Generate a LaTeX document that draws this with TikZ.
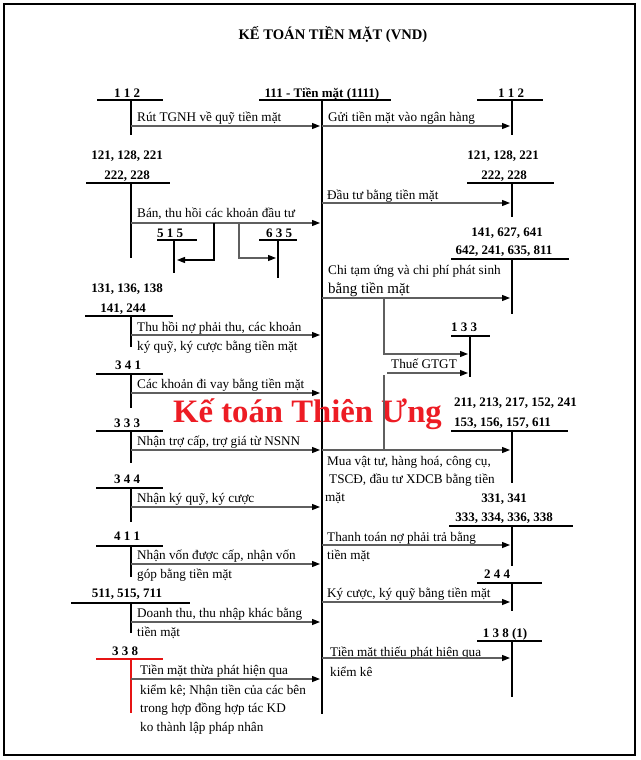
\documentclass[tikz,border=0pt]{standalone}
\usepackage{fontspec}
\setmainfont{Liberation Serif}
\usetikzlibrary{arrows.meta}
\definecolor{arrgray}{RGB}{95,95,95}
\definecolor{wmred}{RGB}{237,28,36}
\definecolor{linered}{RGB}{230,20,20}
\begin{document}
\begin{tikzpicture}[x=1pt,y=-1pt,
  acct/.style={font=\fontsize{13}{15}\selectfont\bfseries, anchor=base, inner sep=0pt},
  lbl/.style={font=\fontsize{13.2}{15}\selectfont, anchor=base west, inner sep=0pt},
  tl/.style={line width=2pt},
  tv/.style={line width=2.4pt},
  arr/.style={draw=arrgray, line width=1.3pt, -{Triangle[length=8pt,width=6pt,color=black]}, shorten >=2pt},
  plainln/.style={draw=arrgray, line width=1.3pt},
]
\useasboundingbox (0,0) rectangle (640,760);
\draw[line width=2.2pt] (4,4) rectangle (635,755);

% title
\node[acct, font=\fontsize{14.6}{16}\selectfont\bfseries] (title) at (333,40) {KẾ TOÁN TIỀN MẶT (VND)};

% main account 111
\node[acct] (m) at (322,97) {111 - Tiền mặt (1111)};
\coordinate (mT) at (322,100);
\coordinate (mB) at (322,714);
\coordinate (mhL) at (259,100);
\coordinate (mhR) at (391,100);
\draw[tl] (mhL) -- (mhR);
\draw[tv] (mT) -- (mB);

% watermark
\node[anchor=base west, inner sep=0pt, text=wmred, font=\fontsize{32.7}{36}\selectfont\bfseries] (wm) at (173,422) {Kế toán Thiên Ưng};

%%%%%%%% LEFT SIDE %%%%%%%%
% 112
\node[acct] (L1) at (127,97) {1 1 2};
\coordinate (L1hl) at (97,100); \coordinate (L1hr) at (163,100);
\coordinate (L1t) at (131,100); \coordinate (L1b) at (131,135);
\draw[tl] (L1hl) -- (L1hr); \draw[tv] (L1t) -- (L1b);
\node[lbl] (L1x) at (137,121) {Rút TGNH về quỹ tiền mặt};
\coordinate (L1a) at (131,126);
\draw[arr] (L1a) -- (L1a -| mT);

% 121,128,221 / 222,228
\node[acct] (L2) at (127,159) {121, 128, 221};
\node[acct] (L2b) at (127,179) {222, 228};
\coordinate (L2hl) at (86,183); \coordinate (L2hr) at (170,183);
\coordinate (L2t) at (131,183); \coordinate (L2b) at (131,258);
\draw[tl] (L2hl) -- (L2hr); \draw[tv] (L2t) -- (L2b);
\node[lbl] (L2x) at (137,217) {Bán, thu hồi các khoản đầu tư};
\coordinate (L2a) at (131,223);
\draw[arr] (L2a) -- (L2a -| mT);
% 515
\node[acct] (S1) at (170,237) {5 1 5};
\coordinate (S1hl) at (157,240); \coordinate (S1hr) at (197,240);
\coordinate (S1t) at (174,240); \coordinate (S1b) at (174,273);
\draw[line width=1.5pt] (S1hl) -- (S1hr); \draw[line width=1.5pt] (S1t) -- (S1b);
% 635
\node[acct] (S2) at (279,237) {6 3 5};
\coordinate (S2hl) at (259,240); \coordinate (S2hr) at (297,240);
\coordinate (S2t) at (278,240); \coordinate (S2b) at (278,278);
\draw[line width=1.5pt] (S2hl) -- (S2hr); \draw[line width=1.5pt] (S2t) -- (S2b);
% branches
\coordinate (B1s) at (214,223); \coordinate (B1m) at (214,260);
\draw[arr, draw=black, line width=1.1pt, shorten >=3pt] (B1s) -- (B1m) -- (B1m -| S1t);
\coordinate (B2s) at (239,223); \coordinate (B2m) at (239,258);
\draw[arr, line width=1.1pt] (B2s) -- (B2m) -- (B2m -| S2t);

% 131,136,138 / 141,244
\node[acct] (L3) at (127,292) {131, 136, 138};
\node[acct] (L3b) at (123,312) {141, 244};
\coordinate (L3hl) at (85,316); \coordinate (L3hr) at (173,316);
\coordinate (L3t) at (131,316); \coordinate (L3b) at (131,347);
\draw[tl] (L3hl) -- (L3hr); \draw[tv] (L3t) -- (L3b);
\node[lbl] (L3x) at (137,331) {Thu hồi nợ phải thu, các khoản};
\node[lbl] (L3y) at (137,350) {ký quỹ, ký cược bằng tiền mặt};
\coordinate (L3a) at (131,335);
\draw[arr] (L3a) -- (L3a -| mT);

% 341
\node[acct] (L4) at (128,369) {3 4 1};
\coordinate (L4hl) at (96,374); \coordinate (L4hr) at (163,374);
\coordinate (L4t) at (131,374); \coordinate (L4b) at (131,408);
\draw[tl] (L4hl) -- (L4hr); \draw[tv] (L4t) -- (L4b);
\node[lbl] (L4x) at (137,388) {Các khoản đi vay bằng tiền mặt};
\coordinate (L4a) at (131,393);
\draw[arr] (L4a) -- (L4a -| mT);

% 333
\node[acct] (L5) at (127,427) {3 3 3};
\coordinate (L5hl) at (96,431); \coordinate (L5hr) at (163,431);
\coordinate (L5t) at (131,431); \coordinate (L5b) at (131,463);
\draw[tl] (L5hl) -- (L5hr); \draw[tv] (L5t) -- (L5b);
\node[lbl] (L5x) at (137,445) {Nhận trợ cấp, trợ giá từ NSNN};
\coordinate (L5a) at (131,450);
\draw[arr] (L5a) -- (L5a -| mT);

% 344
\node[acct] (L6) at (127,483) {3 4 4};
\coordinate (L6hl) at (96,488); \coordinate (L6hr) at (163,488);
\coordinate (L6t) at (131,488); \coordinate (L6b) at (131,522);
\draw[tl] (L6hl) -- (L6hr); \draw[tv] (L6t) -- (L6b);
\node[lbl] (L6x) at (137,502) {Nhận ký quỹ, ký cược};
\coordinate (L6a) at (131,507);
\draw[arr] (L6a) -- (L6a -| mT);

% 411
\node[acct] (L7) at (127,540) {4 1 1};
\coordinate (L7hl) at (96,546); \coordinate (L7hr) at (163,546);
\coordinate (L7t) at (131,546); \coordinate (L7b) at (131,577);
\draw[tl] (L7hl) -- (L7hr); \draw[tv] (L7t) -- (L7b);
\node[lbl] (L7x) at (137,559) {Nhận vốn được cấp, nhận vốn};
\node[lbl] (L7y) at (137,578) {góp bằng tiền mặt};
\coordinate (L7a) at (131,564);
\draw[arr] (L7a) -- (L7a -| mT);

% 511,515,711
\node[acct] (L8) at (127,597) {511, 515, 711};
\coordinate (L8hl) at (71,603); \coordinate (L8hr) at (190,603);
\coordinate (L8t) at (131,603); \coordinate (L8b) at (131,633);
\draw[tl] (L8hl) -- (L8hr); \draw[tv] (L8t) -- (L8b);
\node[lbl] (L8x) at (137,617) {Doanh thu, thu nhập khác bằng};
\node[lbl] (L8y) at (137,636) {tiền mặt};
\coordinate (L8a) at (131,622);
\draw[arr] (L8a) -- (L8a -| mT);

% 338
\node[acct] (L9) at (125,655) {3 3 8};
\coordinate (L9hl) at (96,659); \coordinate (L9hr) at (163,659);
\coordinate (L9t) at (131,659); \coordinate (L9b) at (131,713);
\draw[linered, line width=1.4pt] (L9hl) -- (L9hr);
\draw[linered, line width=2pt] (L9t) -- (L9b);
\node[lbl] (L9x) at (140,674) {Tiền mặt thừa phát hiện qua};
\node[lbl] (L9y) at (140,694) {kiểm kê; Nhận tiền của các bên};
\node[lbl] (L9z) at (140,712) {trong hợp đồng hợp tác KD};
\node[lbl] (L9w) at (140,731) {ko thành lập pháp nhân};
\coordinate (L9a) at (131,679);
\draw[arr] (L9a) -- (L9a -| mT);

%%%%%%%% RIGHT SIDE %%%%%%%%
% 112
\node[acct] (R1) at (511,97) {1 1 2};
\coordinate (R1hl) at (477,100); \coordinate (R1hr) at (543,100);
\coordinate (R1t) at (512,100); \coordinate (R1b) at (512,135);
\draw[tl] (R1hl) -- (R1hr); \draw[tv] (R1t) -- (R1b);
\node[lbl] (R1x) at (328,121) {Gửi tiền mặt vào ngân hàng};
\coordinate (R1a) at (322,126);
\draw[arr] (R1a) -- (R1a -| R1t);

% 121,128,221 / 222,228
\node[acct] (R2) at (503,159) {121, 128, 221};
\node[acct] (R2b) at (504,179) {222, 228};
\coordinate (R2hl) at (467,183); \coordinate (R2hr) at (554,183);
\coordinate (R2t) at (512,183); \coordinate (R2b) at (512,217);
\draw[tl] (R2hl) -- (R2hr); \draw[tv] (R2t) -- (R2b);
\node[lbl] (R2x) at (327,199) {Đầu tư bằng tiền mặt};
\coordinate (R2a) at (322,203);
\draw[arr] (R2a) -- (R2a -| R2t);

% 141,627,641 / 642,241,635,811
\node[acct] (R3) at (507,236) {141, 627, 641};
\node[acct] (R3b) at (504,254) {642, 241, 635, 811};
\coordinate (R3hl) at (451,259); \coordinate (R3hr) at (569,259);
\coordinate (R3t) at (512,259); \coordinate (R3b) at (512,314);
\draw[tl] (R3hl) -- (R3hr); \draw[tv] (R3t) -- (R3b);
\node[lbl] (R3x) at (328,274) {Chi tạm ứng và chi phí phát sinh};
\node[lbl, font=\fontsize{15}{17}\selectfont] (R3y) at (328,293) {bằng tiền mặt};
\coordinate (R3a) at (322,298);
\draw[arr] (R3a) -- (R3a -| R3t);

% 133
\node[acct] (R4) at (464,331) {1 3 3};
\coordinate (R4hl) at (451,336); \coordinate (R4hr) at (490,336);
\coordinate (R4t) at (470,336); \coordinate (R4b) at (470,377);
\draw[tl] (R4hl) -- (R4hr); \draw[tv] (R4t) -- (R4b);
\coordinate (C1s) at (384,298); \coordinate (C1m) at (384,354);
\draw[arr] (C1s) -- (C1m) -- (C1m -| R4t);
\node[lbl] (R4x) at (391,368) {Thuế GTGT};
\coordinate (R4a) at (387,373);
\draw[arr] (R4a) -- (R4a -| R4t);
\coordinate (C2s) at (384,375); \coordinate (C2e) at (384,450);
\draw[plainln] (C2s) -- (C2e);

% 211,... / 153,...
\node[acct, anchor=base west] (R5) at (454,406) {211, 213, 217, 152, 241};
\node[acct, anchor=base west] (R5b) at (454,426) {153, 156, 157, 611};
\coordinate (R5hl) at (451,431); \coordinate (R5hr) at (568,431);
\coordinate (R5t) at (512,431); \coordinate (R5b) at (512,483);
\draw[tl] (R5hl) -- (R5hr); \draw[tv] (R5t) -- (R5b);
\coordinate (R5a) at (322,450);
\draw[arr] (R5a) -- (R5a -| R5t);
\node[lbl] (R5x) at (327,465) {Mua vật tư, hàng hoá, công cụ,};
\node[lbl] (R5y) at (329,483) {TSCĐ, đầu tư XDCB bằng tiền};
\node[lbl] (R5z) at (325,501) {mặt};

% 331,341 / 333,...
\node[acct] (R6) at (504,502) {331, 341};
\node[acct] (R6b) at (504,521) {333, 334, 336, 338};
\coordinate (R6hl) at (449,526); \coordinate (R6hr) at (573,526);
\coordinate (R6t) at (512,526); \coordinate (R6b) at (512,566);
\draw[tl] (R6hl) -- (R6hr); \draw[tv] (R6t) -- (R6b);
\node[lbl] (R6x) at (327,541) {Thanh toán nợ phải trả bằng};
\node[lbl] (R6y) at (327,559) {tiền mặt};
\coordinate (R6a) at (322,545);
\draw[arr] (R6a) -- (R6a -| R6t);

% 244
\node[acct] (R7) at (497,578) {2 4 4};
\coordinate (R7hl) at (477,583); \coordinate (R7hr) at (542,583);
\coordinate (R7t) at (512,583); \coordinate (R7b) at (512,611);
\draw[tl] (R7hl) -- (R7hr); \draw[tv] (R7t) -- (R7b);
\node[lbl] (R7x) at (327,597) {Ký cược, ký quỹ bằng tiền mặt};
\coordinate (R7a) at (322,602);
\draw[arr] (R7a) -- (R7a -| R7t);

% 138(1)
\node[acct] (R8) at (505,637) {1 3 8 (1)};
\coordinate (R8hl) at (477,641); \coordinate (R8hr) at (542,641);
\coordinate (R8t) at (512,641); \coordinate (R8b) at (512,697);
\draw[tl] (R8hl) -- (R8hr); \draw[tv] (R8t) -- (R8b);
\node[lbl] (R8x) at (330,656) {Tiền mặt thiếu phát hiện qua};
\node[lbl] (R8y) at (330,676) {kiểm kê};
\coordinate (R8a) at (322,658);
\draw[arr] (R8a) -- (R8a -| R8t);
\end{tikzpicture}
\end{document}
